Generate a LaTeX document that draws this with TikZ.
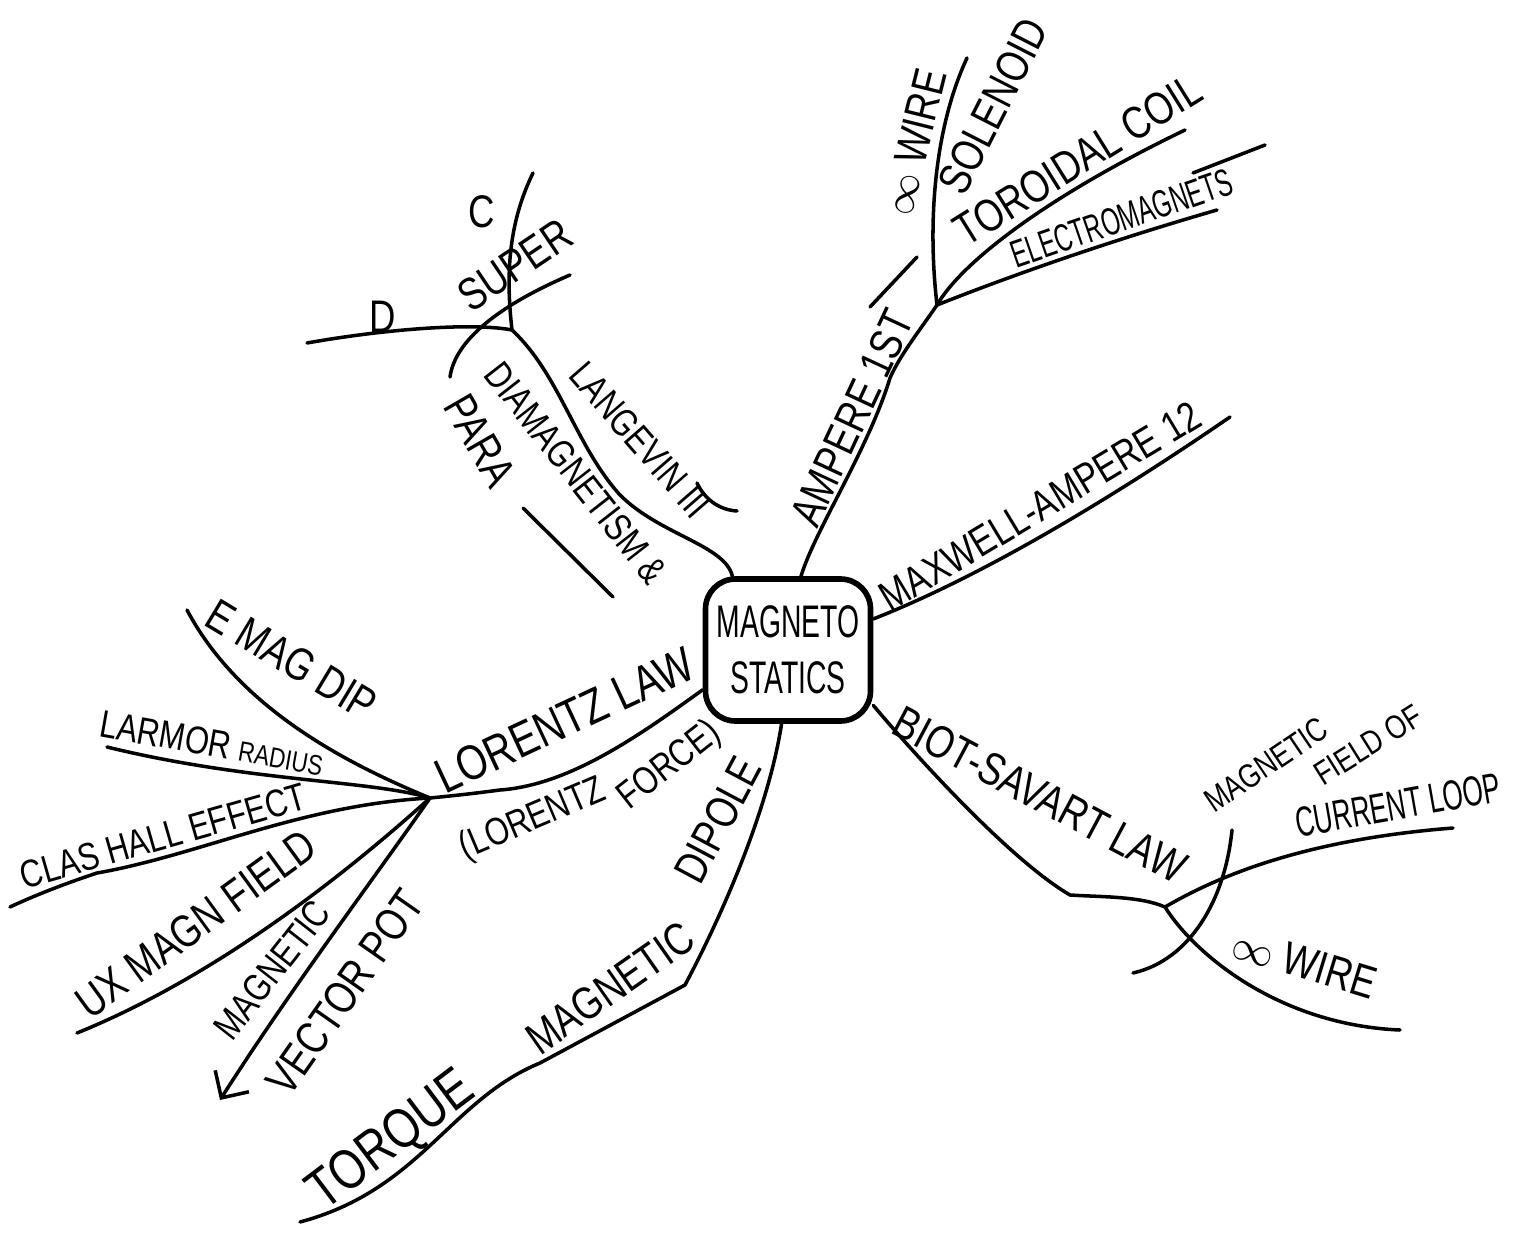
\documentclass[tikz,border=0pt]{standalone}
\usepackage{fontspec}
\newfontfamily\hand{Liberation Sans}[FakeStretch=0.8]
\newfontfamily\handn{Liberation Sans}[FakeStretch=0.62]
\usetikzlibrary{arrows.meta}

\begin{document}
\begin{tikzpicture}[x=0.1mm, y=-0.1mm,
    hub/.style={draw, line width=1.6pt, rounded corners=3mm, minimum width=16.5mm,
        minimum height=14.2mm, align=center, inner sep=1pt,
        font=\handn\fontsize{13}{16}\selectfont},
    branch/.style={line width=1pt, line cap=round, line join=round},
    lbl/.style={font=\hand\fontsize{13}{15}\selectfont, inner sep=0pt},
    mid/.style={font=\hand\fontsize{11}{13}\selectfont, inner sep=0pt},
    sml/.style={font=\hand\fontsize{9.5}{11}\selectfont, inner sep=0pt},
    nar/.style={font=\handn\fontsize{11}{13}\selectfont, inner sep=0pt}]

\useasboundingbox (0,0) rectangle (1517,1255);

% Centre
\node[hub] (ms) at (788,650) {MAGNETO\\STATICS};

% Ampere branch (top)
\coordinate (aB) at (890,378);
\coordinate (jA) at (937,305);
\coordinate (aSol) at (967,58);
\coordinate (aTor) at (1185,130);
\coordinate (aEle) at (1217,210);
\coordinate (aSt1) at (870,307);
\coordinate (aSt2) at (917,257);
\coordinate (aEx1) at (1193,173);
\coordinate (aEx2) at (1265,145);
\draw[branch] (ms.80) .. controls (815,530) and (868,450) .. (aB)
    .. controls (900,355) and (920,330) .. (jA);
\draw[branch] (jA) .. controls (926,210) and (938,120) .. (aSol);
\draw[branch] (jA) .. controls (960,265) and (1040,200) .. (aTor);
\draw[branch] (jA) .. controls (1020,272) and (1120,238) .. (aEle);
\draw[branch] (aSt1) -- (aSt2);
\draw[branch] (aEx1) -- (aEx2);
\node[lbl, rotate=65] (ampL) at (852,418) {AMPERE 1ST};
\node[lbl, rotate=76] (wireA) at (914,142) {$\infty$ WIRE};
\node[lbl, rotate=63] (solL) at (993,106) {SOLENOID};
\node[lbl, rotate=32] (torL) at (1078,160) {TOROIDAL COIL};
\node[nar, rotate=19] (eleL) at (1122,218) {ELECTROMAGNETS};

% Maxwell-Ampere branch (right)
\coordinate (mxE) at (1230,417);
\draw[branch] (ms.20) .. controls (960,585) and (1080,520) .. (mxE);
\node[lbl, font=\hand\fontsize{12}{14}\selectfont, rotate=31] (mxL) at (1040,506) {MAXWELL-AMPERE 12};

% Biot-Savart branch (lower right)
\coordinate (bK) at (1070,895);
\coordinate (jB) at (1165,907);
\coordinate (bLoop) at (1453,828);
\coordinate (bWire) at (1400,1030);
\coordinate (bX1) at (1232,830);
\coordinate (bX2) at (1133,973);
\draw[branch] (ms.-33) .. controls (915,755) and (1010,860) .. (bK)
    .. controls (1100,897) and (1140,896) .. (jB);
\draw[branch] (jB) .. controls (1215,878) and (1300,840) .. (bLoop);
\draw[branch] (jB) .. controls (1195,955) and (1280,1025) .. (bWire);
\draw[branch] (bX1) .. controls (1225,900) and (1190,960) .. (bX2);
\node[lbl, rotate=-28] (bsL) at (1040,795) {BIOT-SAVART LAW};
\node[sml, rotate=34] (magL) at (1266,765) {MAGNETIC};
\node[sml, rotate=32] (fldL) at (1368,745) {FIELD OF};
\node[nar, font=\handn\fontsize{12}{14}\selectfont, rotate=10] (loopL) at (1398,805) {CURRENT LOOP};
\node[lbl, rotate=-17] (wireB) at (1305,963) {$\infty$ WIRE};

% Magnetic dipole branch (bottom)
\coordinate (dK1) at (685,985);
\coordinate (dK2) at (540,1063);
\coordinate (dE) at (300,1222);
\draw[branch] (ms.-95) .. controls (770,800) and (730,900) .. (dK1) -- (dK2)
    .. controls (450,1100) and (420,1190) .. (dE);
\node[lbl, rotate=62] (dipL) at (718,820) {DIPOLE};
\node[lbl, rotate=35] (mgL) at (610,988) {MAGNETIC};
\node[lbl, font=\hand\fontsize{16}{18}\selectfont, rotate=37] (tqL) at (392,1142) {TORQUE};

% Lorentz branch (left)
\coordinate (lK) at (500,790);
\coordinate (jL) at (430,798);
\coordinate (lDip) at (187,610);
\coordinate (lLar) at (107,747);
\coordinate (lHall) at (10,907);
\coordinate (lUx) at (77,1033);
\coordinate (lVec) at (220,1100);
\draw[branch] (ms.205) .. controls (640,735) and (570,785) .. (lK)
    .. controls (470,794) and (450,796) .. (jL);
\draw[branch] (jL) .. controls (350,765) and (240,710) .. (lDip);
\draw[branch] (jL) .. controls (370,780) and (250,782) .. (lLar);
\draw[branch] (jL) .. controls (300,805) and (200,855) .. (97,873)
    .. controls (70,882) and (40,893) .. (lHall);
\draw[branch] (jL) .. controls (350,870) and (220,975) .. (lUx);
\draw[branch, -{Straight Barb[length=2mm]}] (jL) .. controls (380,870) and (290,990) .. (lVec);
\node[lbl, font=\hand\fontsize{14}{16}\selectfont, rotate=25] (lzL) at (565,720) {LORENTZ LAW};
\node[mid, rotate=23] (lf1) at (533,820) {(LORENTZ};
\node[mid, rotate=38] (lf2) at (670,766) {FORCE)};
\node[lbl, rotate=-31] (edL) at (292,660) {E MAG DIP};
\node[mid, rotate=-10] (larL) at (212,743) {LARMOR {\fontsize{8}{10}\selectfont RADIUS}};
\node[mid, rotate=16] (hallL) at (163,836) {CLAS HALL EFFECT};
\node[lbl, rotate=36] (uxL) at (196,924) {UX MAGN FIELD};
\node[mid, rotate=52] (vmL) at (272,970) {MAGNETIC};
\node[lbl, rotate=55] (vpL) at (345,992) {VECTOR POT};

% Langevin branch (upper left)
\coordinate (jLg) at (512,330);
\coordinate (gK) at (620,495);
\coordinate (gC) at (533,173);
\coordinate (gD) at (307,343);
\coordinate (gX1) at (570,275);
\coordinate (gX2) at (450,377);
\coordinate (gS1) at (523,508);
\coordinate (gS2) at (613,597);
\coordinate (gA1) at (697,483);
\coordinate (gA2) at (737,511);
\draw[branch] (ms.127) .. controls (725,545) and (660,535) .. (gK)
    .. controls (575,445) and (560,375) .. (jLg);
\draw[branch] (jLg) .. controls (505,270) and (510,220) .. (gC);
\draw[branch] (jLg) .. controls (470,322) and (380,330) .. (gD);
\draw[branch] (gX1) .. controls (500,305) and (455,340) .. (gX2);
\draw[branch] (gS1) -- (gS2);
\draw[branch] (gA1) .. controls (705,500) and (720,510) .. (gA2);
\node[lbl] (cL) at (482,212) {C};
\node[lbl, rotate=34] (supL) at (515,265) {SUPER};
\node[lbl] (dL) at (383,317) {D};
\node[mid, rotate=-49] (lgL) at (640,440) {LANGEVIN III};
\node[mid, rotate=-52] (diaL) at (576,473) {DIAMAGNETISM \&};
\node[lbl, rotate=-60] (paraL) at (480,441) {PARA};
\end{tikzpicture}
\end{document}
